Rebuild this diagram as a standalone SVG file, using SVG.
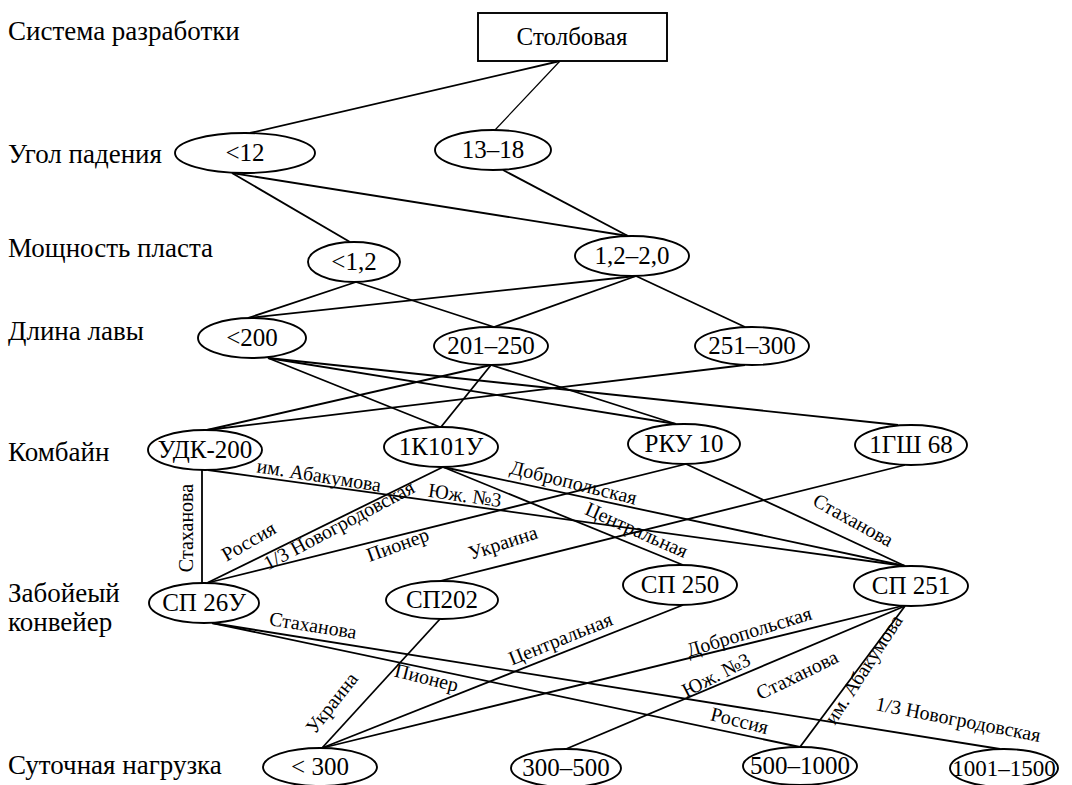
<svg xmlns="http://www.w3.org/2000/svg" width="1072" height="785" viewBox="0 0 1072 785" font-family="Liberation Serif, DejaVu Serif, serif">
<style>
text{font-family:'Liberation Serif','DejaVu Serif',serif;fill:#000}
.row{font-size:27px}
.nt{font-size:25px;text-anchor:middle}
.el{font-size:20px;text-anchor:middle}
.node ellipse,.node rect{fill:#fff;stroke:#000;stroke-width:1.9}
#connectors line{stroke:#000;stroke-width:1.8}
</style>
<rect width="1072" height="785" fill="#fff"/>
<g id="rows">
<text class="row" x="8" y="40">Система разработки</text>
<text class="row" x="8" y="163">Угол падения</text>
<text class="row" x="8" y="257">Мощность пласта</text>
<text class="row" x="8" y="340">Длина лавы</text>
<text class="row" x="8" y="461">Комбайн</text>
<text class="row" x="8" y="602">Забойеый</text>
<text class="row" x="8" y="631">конвейер</text>
<text class="row" x="8" y="774">Суточная нагрузка</text>
</g>
<g id="connectors">
<line x1="560" y1="61" x2="250" y2="133"/>
<line x1="560" y1="61" x2="495" y2="130" style="stroke-width:1.2"/>
<line x1="232" y1="173" x2="350" y2="242"/>
<line x1="232" y1="173" x2="628" y2="236"/>
<line x1="503" y1="170" x2="628" y2="236"/>
<line x1="356" y1="282" x2="248" y2="318"/>
<line x1="356" y1="282" x2="494" y2="327"/>
<line x1="636" y1="276" x2="248" y2="318"/>
<line x1="636" y1="276" x2="494" y2="327"/>
<line x1="636" y1="276" x2="745" y2="327"/>
<line x1="268" y1="358" x2="440" y2="427"/>
<line x1="268" y1="358" x2="676" y2="424"/>
<line x1="268" y1="358" x2="898" y2="425"/>
<line x1="491" y1="365" x2="207" y2="430"/>
<line x1="491" y1="365" x2="441" y2="427"/>
<line x1="491" y1="365" x2="676" y2="424"/>
<line x1="745" y1="365" x2="207" y2="430"/>
<line x1="202" y1="470" x2="202" y2="583"/>
<line x1="208" y1="470" x2="905" y2="566"/>
<line x1="443" y1="467" x2="207" y2="583"/>
<line x1="443" y1="467" x2="683" y2="565"/>
<line x1="443" y1="467" x2="905" y2="566"/>
<line x1="686" y1="464" x2="207" y2="583"/>
<line x1="686" y1="464" x2="905" y2="566"/>
<line x1="905" y1="465" x2="440" y2="581"/>
<line x1="212" y1="623" x2="1000" y2="749"/>
<line x1="212" y1="623" x2="800" y2="747"/>
<line x1="440" y1="619" x2="322" y2="748"/>
<line x1="683" y1="605" x2="322" y2="748"/>
<line x1="902" y1="606" x2="322" y2="748"/>
<line x1="905" y1="606" x2="566" y2="749"/>
<line x1="905" y1="606" x2="800" y2="747"/>
<g id="edge-labels">
<text class="el" transform="translate(193,528) rotate(-90)">Стаханова</text>
<text class="el" transform="translate(318,482) rotate(9)">им. Абакумова</text>
<text class="el" transform="translate(464,502) rotate(8)">Юж. №3</text>
<text class="el" transform="translate(252,547) rotate(-30)">Россия</text>
<text class="el" transform="translate(342,531) rotate(-28)">1/3 Новогродовская</text>
<text class="el" transform="translate(400,551) rotate(-20)">Пионер</text>
<text class="el" transform="translate(505,549) rotate(-18)">Украина</text>
<text class="el" transform="translate(572,489) rotate(14)">Добропольская</text>
<text class="el" transform="translate(634,536) rotate(24)">Центральная</text>
<text class="el" transform="translate(850,526) rotate(29)">Стаханова</text>
<text class="el" transform="translate(312,632) rotate(9)">Стаханова</text>
<text class="el" transform="translate(425,684) rotate(14)">Пионер</text>
<text class="el" transform="translate(337,707) rotate(-52)">Украина</text>
<text class="el" transform="translate(563,645) rotate(-22)">Центральная</text>
<text class="el" transform="translate(751,638) rotate(-17)">Добропольская</text>
<text class="el" transform="translate(719,681) rotate(-27)">Юж. №3</text>
<text class="el" transform="translate(800,681) rotate(-26)">Стаханова</text>
<text class="el" transform="translate(738,727) rotate(14)">Россия</text>
<text class="el" transform="translate(869,673) rotate(-57)">им. Абакумова</text>
<text class="el" transform="translate(957,726) rotate(11)">1/3 Новогродовская</text>
</g>
</g>
<g id="n-stolb" class="node"><rect x="478" y="13" width="189" height="48"/><text class="nt" x="572" y="45">Столбовая</text></g>
<g id="n-lt12" class="node"><ellipse cx="245" cy="153" rx="70" ry="20"/><text class="nt" x="245" y="161">&lt;12</text></g>
<g id="n-13-18" class="node"><ellipse cx="493" cy="150" rx="58" ry="20"/><text class="nt" x="493" y="158">13–18</text></g>
<g id="n-lt12m" class="node"><ellipse cx="354" cy="262" rx="46" ry="20"/><text class="nt" x="354" y="270">&lt;1,2</text></g>
<g id="n-12-20" class="node"><ellipse cx="632" cy="256" rx="57" ry="20"/><text class="nt" x="632" y="264">1,2–2,0</text></g>
<g id="n-lt200" class="node"><ellipse cx="252" cy="338" rx="54" ry="20"/><text class="nt" x="252" y="346">&lt;200</text></g>
<g id="n-201-250" class="node"><ellipse cx="491" cy="346" rx="57" ry="19"/><text class="nt" x="491" y="354">201–250</text></g>
<g id="n-251-300" class="node"><ellipse cx="752" cy="346" rx="57" ry="19"/><text class="nt" x="752" y="354">251–300</text></g>
<g id="n-udk" class="node"><ellipse cx="205" cy="450" rx="57" ry="20"/><text class="nt" x="205" y="458">УДК-200</text></g>
<g id="n-1k101" class="node"><ellipse cx="441" cy="447" rx="57" ry="20"/><text class="nt" x="441" y="455">1К101У</text></g>
<g id="n-rku" class="node"><ellipse cx="684" cy="444" rx="56" ry="20"/><text class="nt" x="684" y="452">РКУ 10</text></g>
<g id="n-1gsh" class="node"><ellipse cx="911" cy="445" rx="56" ry="20"/><text class="nt" x="911" y="453">1ГШ 68</text></g>
<g id="n-sp26" class="node"><ellipse cx="204" cy="603" rx="55" ry="20"/><text class="nt" x="204" y="611">СП 26У</text></g>
<g id="n-sp202" class="node"><ellipse cx="442" cy="600" rx="56" ry="19"/><text class="nt" x="442" y="608">СП202</text></g>
<g id="n-sp250" class="node"><ellipse cx="680" cy="585" rx="57" ry="20"/><text class="nt" x="680" y="593">СП 250</text></g>
<g id="n-sp251" class="node"><ellipse cx="911" cy="586" rx="57" ry="20"/><text class="nt" x="911" y="594">СП 251</text></g>
<g id="n-lt300" class="node"><ellipse cx="320" cy="767" rx="57" ry="19"/><text class="nt" x="320" y="775">&lt; 300</text></g>
<g id="n-300-500" class="node"><ellipse cx="566" cy="768" rx="55" ry="19"/><text class="nt" x="566" y="776">300–500</text></g>
<g id="n-500-1000" class="node"><ellipse cx="800" cy="766" rx="57" ry="19"/><text class="nt" x="800" y="774">500–1000</text></g>
<g id="n-1001-1500" class="node"><ellipse cx="1004" cy="768" rx="54" ry="19"/><text class="nt" x="1004" y="776" style="font-size:23px">1001–1500</text></g>
</svg>
